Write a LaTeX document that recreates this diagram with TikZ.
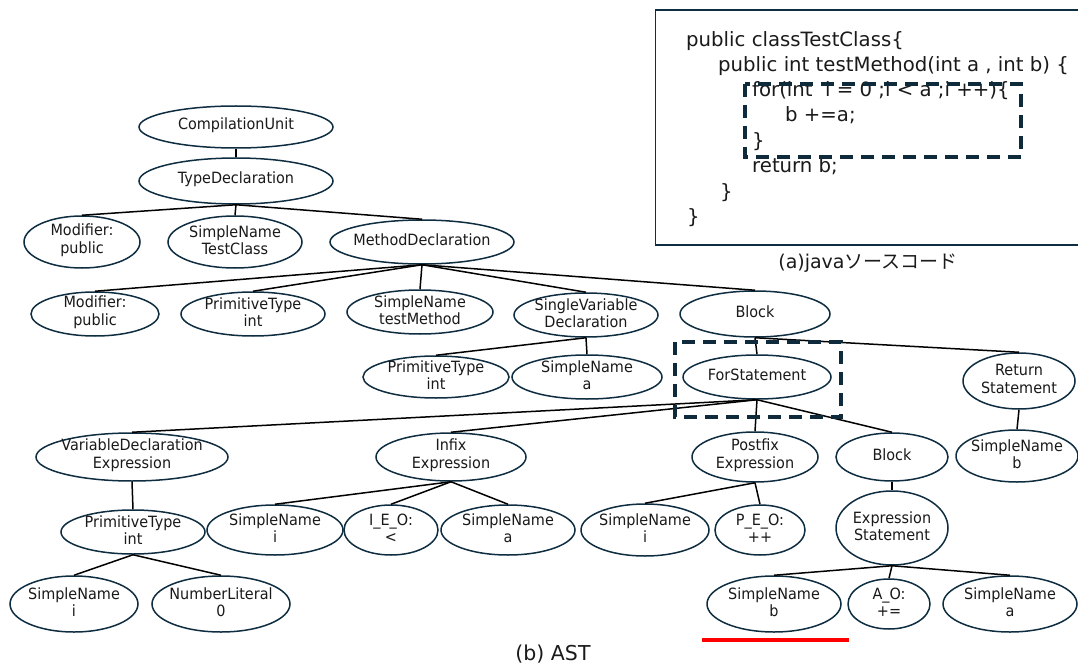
\documentclass[tikz,border=0pt]{standalone}
\usepackage{fontspec}
\usetikzlibrary{shapes.geometric}
\setmainfont{DejaVu Sans}
\newfontfamily\treefont[FakeStretch=0.93]{DejaVu Sans}
\newfontfamily\jpfont{Noto Sans CJK JP}
\definecolor{edgenavy}{HTML}{0F2D40}
\definecolor{boxnavy}{HTML}{0E2A3B}
\definecolor{txt}{HTML}{1A1A1A}
\newcommand{\astnode}[6]{%
  \node[astshape, minimum width=#4*2pt, minimum height=#5*2pt] (#1) at (#2,#3) {};
  \node[asttext] (#1-t) at ([yshift=2pt]#1.center) {#6};
}
\begin{document}
\begin{tikzpicture}[x=1pt, y=-1pt,
  astshape/.style={ellipse, draw=edgenavy, line width=1.5pt, inner sep=0pt, fill=white},
  asttext/.style={align=center, inner sep=0pt, text=txt, font=\treefont\fontsize{15.5}{17.5}\selectfont},
  codeline/.style={anchor=base west, inner sep=0pt, text=txt, font=\fontsize{19.7}{24}\selectfont},
  caption/.style={inner sep=0pt, text=txt, font=\fontsize{19}{23}\selectfont},
  link/.style={line width=1.5pt, black},
  focusbox/.style={draw=boxnavy, line width=4pt, dash pattern=on 13pt off 8pt},
]
\useasboundingbox (0,0) rectangle (1078,668);

% ---- source code panel ----
\draw[draw=edgenavy, line width=1.5pt] (655.5,10) rectangle (1090,245);
\node[codeline] (code1) at (686,47) {public classTestClass\{};
\node[codeline] (code2) at (718,72) {public int testMethod(int a , int b) \{};
\node[codeline] (code3) at (752,97) {for(int\ \ i = 0 ;i < a ;i ++)\{};
\node[codeline] (code4) at (785,122) {b +=a;};
\node[codeline] (code5) at (752,148) {\}};
\node[codeline] (code6) at (752,173) {return b;};
\node[codeline] (code7) at (720,199) {\}};
\node[codeline] (code8) at (687,224) {\}};
\draw[focusbox] (745,84) rectangle (1021,157);
\node[caption] (capa) at (868,263) {(a)java{\jpfont ソースコード}};

% ---- AST: ellipses (filled, so connectors drawn later stop at the outline visually) ----
\astnode{cu}{236}{127}{97}{21}{CompilationUnit}
\astnode{td}{236}{181}{97}{23}{TypeDeclaration}
\astnode{mod1}{82}{242}{58}{26}{Modifier:\\public}
\astnode{snc}{235}{242}{67}{26}{SimpleName\\TestClass}
\astnode{md}{422}{242}{92}{22}{MethodDeclaration}
\astnode{mod2}{95}{314}{64}{22}{Modifier:\\public}
\astnode{pt1}{253}{314}{72}{22}{PrimitiveType\\int}
\astnode{snm}{420}{312}{73}{22}{SimpleName\\testMethod}
\astnode{svd}{586}{315}{72}{22}{SingleVariable\\Declaration}
\astnode{blk1}{755}{314}{75}{23}{Block}
\astnode{pt2}{436}{377}{73}{21}{PrimitiveType\\int}
\astnode{sna}{587}{377}{75}{22}{SimpleName\\a}
\astnode{fs}{757}{377}{74}{22}{ForStatement}
\astnode{ret}{1019}{381}{56}{28}{Return\\Statement}
\astnode{vde}{132}{457}{96}{24}{VariableDeclaration\\Expression}
\astnode{inf}{451}{457}{75}{24}{Infix\\Expression}
\astnode{pfx}{755}{457}{63}{25}{Postfix\\Expression}
\astnode{blk2}{892}{457}{56}{24}{Block}
\astnode{snb}{1017}{456}{61}{26}{SimpleName\\b}
\astnode{pt3}{133}{532}{72}{22}{PrimitiveType\\int}
\astnode{sni}{275}{530}{68}{25}{SimpleName\\i}
\astnode{ieo}{391}{530}{47}{25}{I\_E\_O:\\<}
\astnode{sna2}{508}{530}{67}{25}{SimpleName\\a}
\astnode{sni2}{645}{530}{64}{26}{SimpleName\\i}
\astnode{peo}{760}{530}{45}{25}{P\_E\_O:\\++}
\astnode{es}{892}{528}{56}{37}{Expression\\Statement}
\astnode{sni3}{74}{604}{64}{28}{SimpleName\\i}
\astnode{nl}{221}{604}{69}{28}{NumberLiteral\\0}
\astnode{snb2}{774}{604}{67}{28}{SimpleName\\b}
\astnode{ao}{889}{604}{41}{25}{A\_O:\\+=}
\astnode{sna3}{1010}{604}{67}{28}{SimpleName\\a}

% parent-to-child connectors
\foreach \p/\c in {cu/td, td/mod1, td/snc, td/md,
  md/mod2, md/pt1, md/snm, md/svd, md/blk1,
  svd/pt2, svd/sna, blk1/fs, blk1/ret,
  fs/vde, fs/inf, fs/pfx, fs/blk2, ret/snb,
  vde/pt3, inf/sni, inf/ieo, inf/sna2, pfx/sni2, pfx/peo, blk2/es,
  pt3/sni3, pt3/nl, es/snb2, es/ao, es/sna3}
  \draw[link] (\p.south) -- (\c.north);

\draw[focusbox] (675,342) rectangle (841,417);
\draw[red, line width=4pt] (702,640) -- (849,640);
\node[caption, font=\fontsize{20.5}{24}\selectfont] (capb) at (553,654) {(b) AST};
\end{tikzpicture}
\end{document}
